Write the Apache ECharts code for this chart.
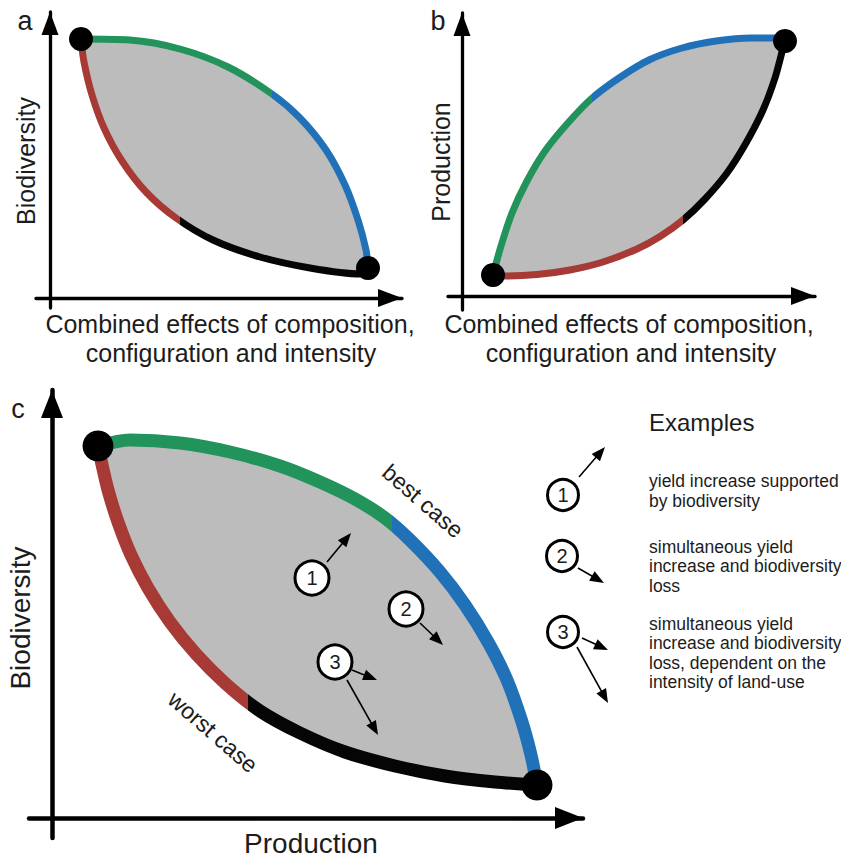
<!DOCTYPE html>
<html><head><meta charset="utf-8">
<script src="https://cdn.jsdelivr.net/npm/echarts@6/dist/echarts.min.js"></script>
<style>html,body{margin:0;padding:0;background:#fff}#chart{width:841px;height:859px}</style>
</head><body><div id="chart"></div>
<script>
// ---- Panel a: Biodiversity vs combined effects (arbitrary units, origin = axis crossing)
const aUpper = [[31,259],[80,258],[130,249],[178,231],[222,204],[250,180],[276,148],[295,113],[308,78],[316,48],[318,30]];
const aLower = [[31,259],[34,236],[42,203],[54,170],[72,137],[96,106],[126,80],[163,58],[210,41],[260,30],[310,24],[318,30]];
const aSplit = [222, 130];          // green|blue on upper curve, red|black on lower curve
const aEnds  = [[31,259],[318,30]];

// ---- Panel b: Production vs combined effects
const bUpper = [[31,21],[39,50],[50,83],[65,115],[83,145],[105,172],[129,197],[157,218],[187,236],[220,248],[254,255],[289,258],[315,258],[323,255]];
const bLower = [[31,21],[43,20],[75,21.5],[108,26],[141,34],[175,47],[198,59.5],[221,76],[243,97],[265,123],[284,153],[301,186],[313,218],[320,244],[323,255]];
const bSplit = [130, 221];
const bEnds  = [[31,21],[323,255]];

// ---- Panel c: Biodiversity vs Production
const cUpper = [[46,372],[78,378],[128,375],[178,366],[228,352],[268,336],[303,319],[333,300],[358,278],[388,246],[413,213],[436,176],[455,138],[470,96],[479,63],[485,33]];
const cLower = [[46,372],[49,358],[56,328],[66,296],[79,263],[96,230],[118,196],[144,164],[174,134],[208,107],[248,85],[293,66],[343,52],[393,42],[443,36],[485,33]];
const cSplit = [340, 196];
const cEnds  = [[46,372],[485,33]];

// numbered example markers inside panel c and in the "Examples" key
const cCircles      = [[260,240],[354,209],[283,156]];
const circleLabels  = ['1','2','3'];
const cArrows       = [[275,256,299,285],[368,195,391,173],[300,148,325,138],[295,138,326,83]];
const keyCircles    = [[511,323],[510,262],[511,186]];
const keyArrows     = [[527,341,553,371],[526,250,552,235],[530,180,556,168],[525,171,556,115]];

// texts
const panelLetters = ['a','b','c'];
const xTitleLines  = ['Combined effects of composition,','configuration and intensity'];
const aYTitle = 'Biodiversity';
const bYTitle = 'Production';
const cYTitle = 'Biodiversity';
const cXTitle = 'Production';
const bestLabel = 'best case';
const worstLabel = 'worst case';
const keyTitle = 'Examples';
const keyTexts = ['yield increase supported\nby biodiversity',
                  'simultaneous yield\nincrease and biodiversity\nloss',
                  'simultaneous yield\nincrease and biodiversity\nloss, dependent on the\nintensity of land-use'];

const GREEN = '#22935a', BLUE = '#2071b8', RED = '#a83a35', BLACK = '#050505', GRAY = '#bcbcbc';
const FONT = '"Liberation Sans", Arial, Helvetica, sans-serif';
const TXT = '#1c1c1c';

const chart = echarts.init(document.getElementById('chart'), null, {renderer: 'svg'});

function ax(gi, min, max, lw, sym) {
  return {type: 'value', gridIndex: gi, min: min, max: max,
    axisLine: {show: true, onZero: true, symbol: ['none', 'triangle'], symbolSize: sym,
      symbolOffset: [0, -sym[1] / 2], lineStyle: {color: '#000', width: lw}},
    axisTick: {show: false}, axisLabel: {show: false}, splitLine: {show: false}};
}
const series = [];
const visualMaps = [];
function curve(data, split, c1, c2, width, gi) {
  const idx = series.length;
  series.push({type: 'line', xAxisIndex: gi, yAxisIndex: gi, data: data, smooth: 0.3, symbol: 'none',
    lineStyle: {width: width, cap: 'butt'}, z: 3, silent: true, animation: false});
  visualMaps.push({type: 'piecewise', show: false, seriesIndex: idx, dimension: 0,
    pieces: [{gte: -100, lt: split, color: c1}, {gte: split, lte: 1000, color: c2}],
    outOfRange: {color: c2}});
}
function fill(upper, lower, gi) {
  const poly = upper.concat(lower.slice().reverse());
  series.push({type: 'custom', xAxisIndex: gi, yAxisIndex: gi, data: [poly[0]], z: 1, silent: true, animation: false,
    renderItem: function (params, api) {
      return {type: 'polygon', shape: {points: poly.map(function (p) { return api.coord(p); })},
        style: {fill: GRAY}};
    }});
}
function dots(data, size, gi) {
  series.push({type: 'scatter', xAxisIndex: gi, yAxisIndex: gi, data: data, symbol: 'circle', symbolSize: size,
    itemStyle: {color: '#000', opacity: 1}, z: 6, silent: true, animation: false});
}
function arrows(list, gi, head, w, lw) {
  series.push({type: 'custom', xAxisIndex: gi, yAxisIndex: gi, data: list, z: 7, silent: true, clip: false, animation: false,
    renderItem: function (params, api) {
      const p1 = api.coord([api.value(0), api.value(1)]);
      const p2 = api.coord([api.value(2), api.value(3)]);
      const dx = p2[0] - p1[0], dy = p2[1] - p1[1], L = Math.hypot(dx, dy);
      const ux = dx / L, uy = dy / L, nx = -uy, ny = ux;
      const bx = p2[0] - ux * head, by = p2[1] - uy * head;
      return {type: 'group', children: [
        {type: 'line', shape: {x1: p1[0], y1: p1[1], x2: bx + ux, y2: by + uy}, style: {stroke: '#000', lineWidth: lw}},
        {type: 'polygon', shape: {points: [[p2[0], p2[1]], [bx + nx * w / 2, by + ny * w / 2], [bx - nx * w / 2, by - ny * w / 2]]},
          style: {fill: '#000'}}
      ]};
    }});
}
function circles(list, size, gi) {
  series.push({type: 'scatter', xAxisIndex: gi, yAxisIndex: gi, symbol: 'circle', symbolSize: size, z: 8, silent: true,
    animation: false, clip: false,
    data: list.map(function (p, i) { return {value: p, name: circleLabels[i]}; }),
    itemStyle: {color: '#fff', borderColor: '#000', borderWidth: 3, opacity: 1},
    label: {show: true, position: 'inside', formatter: '{b}', fontSize: 20, color: TXT, fontFamily: FONT}});
}
function txt(text, x, y, size, extra) {
  const e = {type: 'text', x: x, y: y, z: 20, silent: true,
    style: {text: text, fontSize: size, fontFamily: FONT, fill: TXT,
      align: 'center', verticalAlign: 'middle', textAlign: 'center', textVerticalAlign: 'middle'}};
  if (extra) {
    if (extra.rotation !== undefined) e.rotation = extra.rotation;
    if (extra.align) { e.style.align = extra.align; e.style.textAlign = extra.align; }
    if (extra.lineHeight) e.style.lineHeight = extra.lineHeight;
  }
  return e;
}
const D = Math.PI / 180;

fill(aUpper, aLower, 0);
curve(aUpper, aSplit[0], GREEN, BLUE, 7, 0);
curve(aLower, aSplit[1], RED, BLACK, 7, 0);
dots(aEnds, 24, 0);
fill(bUpper, bLower, 1);
curve(bUpper, bSplit[0], GREEN, BLUE, 7, 1);
curve(bLower, bSplit[1], RED, BLACK, 7, 1);
dots(bEnds, 24, 1);
fill(cUpper, cLower, 2);
curve(cUpper, cSplit[0], GREEN, BLUE, 13, 2);
curve(cLower, cSplit[1], RED, BLACK, 13, 2);
dots(cEnds, 31, 2);
arrows(cArrows, 2, 14, 11, 1.6);
circles(cCircles, 34, 2);
arrows(keyArrows, 2, 14, 11, 1.6);
circles(keyCircles, 31, 2);

const option = {
  backgroundColor: '#fff',
  animation: false,
  grid: [
    {left: 36, top: 12, width: 366, height: 296, outerBoundsMode: 'none', containLabel: false},
    {left: 448, top: 13, width: 367, height: 297, outerBoundsMode: 'none', containLabel: false},
    {left: 29, top: 390, width: 554, height: 448, outerBoundsMode: 'none', containLabel: false}
  ],
  xAxis: [ax(0, -14, 352, 3.3, [18, 24]), ax(1, -14, 353, 3.3, [18, 24]), ax(2, -23, 531, 4.5, [22, 28])],
  yAxis: [ax(0, -10, 286, 3.3, [17, 23]), ax(1, -14, 283, 3.3, [17, 23]), ax(2, -20, 428, 4.5, [22, 28])],
  visualMap: visualMaps,
  series: series,
  graphic: {elements: [
    txt(panelLetters[0], 25, 21, 27), txt(panelLetters[1], 438, 21, 27), txt(panelLetters[2], 18, 409, 27),
    txt(aYTitle, 26, 161, 25, {rotation: 90 * D}),
    txt(bYTitle, 441, 162, 25, {rotation: 90 * D}),
    txt(xTitleLines[0], 230, 324, 25), txt(xTitleLines[1], 231, 353, 25),
    txt(xTitleLines[0], 629, 324, 25), txt(xTitleLines[1], 631, 353, 25),
    txt(cYTitle, 20, 618, 28, {rotation: 90 * D}),
    txt(cXTitle, 311, 843, 28),
    txt(bestLabel, 423, 501, 23, {rotation: -41 * D}),
    txt(worstLabel, 213, 732, 23, {rotation: -41 * D}),
    txt(keyTitle, 649, 422, 24, {align: 'left'}),
    txt(keyTexts[0], 649, 491, 17.5, {align: 'left', lineHeight: 19.5}),
    txt(keyTexts[1], 649, 566, 17.5, {align: 'left', lineHeight: 19.5}),
    txt(keyTexts[2], 649, 653, 17.5, {align: 'left', lineHeight: 19.5})
  ]}
};
chart.setOption(option);
</script></body></html>
